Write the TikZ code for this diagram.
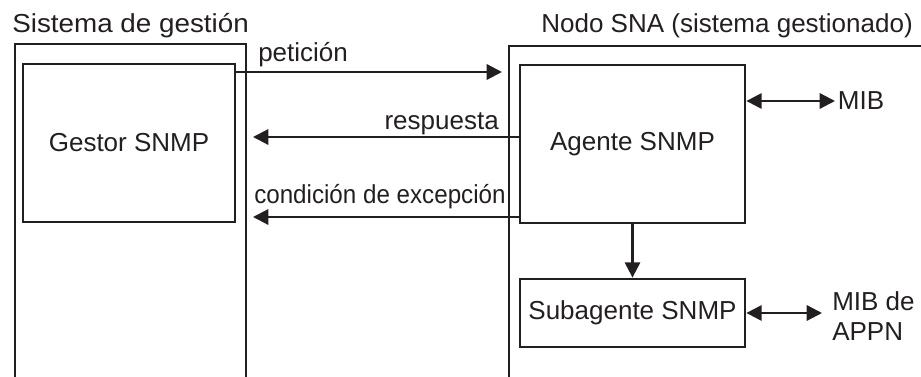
\documentclass[tikz,border=0pt]{standalone}
\usepackage{fontspec}
\setmainfont{Liberation Sans}
\usepackage{xcolor}
\usepackage{tikz}
\usetikzlibrary{arrows.meta}
\definecolor{ink}{HTML}{231F20}
\tikzset{
  snmpFrame/.style={draw=ink, line width=2.2pt},
  snmpBox/.style={draw=ink, line width=2.1pt, inner sep=0pt},
  snmpArrow/.style={draw=ink, line width=1.7pt, -{Triangle[length=11.5pt,width=11.5pt]}},
  snmpBiArrow/.style={draw=ink, line width=1.7pt, {Triangle[length=11.5pt,width=11.5pt]}-{Triangle[length=11.5pt,width=11.5pt]}},
  snmpText/.style={text=ink, font=\fontsize{19.5}{22.5}\selectfont}
}

\begin{document}
\begin{tikzpicture}[x=0.75pt,y=-0.75pt]
  \useasboundingbox (0,0) rectangle (921,377);

  % outer frames, open at the bottom
  \draw[snmpFrame] (15,377) |- (246,44) -- (246,377);
  \draw[snmpFrame] (509,377) |- (921,46);

  \node[snmpText, anchor=base west, inner sep=0pt, xscale=1.07, transform shape] (mgmtTitle) at (12,33) {Sistema de gestión};
  \node[snmpText, anchor=base east, inner sep=0pt] (nodeTitle) at (913,33) {Nodo SNA (sistema gestionado)};

  \node[snmpBox, snmpText, minimum width=159pt, minimum height=118.5pt] (gestor) at (129,143) {Gestor SNMP};
  \node[snmpBox, snmpText, minimum width=168.75pt, minimum height=118.5pt] (agente) at (632.5,144) {Agente SNMP};
  \node[snmpBox, snmpText, minimum width=168.75pt, minimum height=51pt] (subagente) at (632.5,313) {Subagente SNMP};

  \node[snmpText, anchor=west, inner xsep=2pt] (mib) at (835,101) {MIB};
  \node[snmpText, anchor=west, align=left, inner xsep=7.5pt] (mibAppn) at (822,316) {MIB de\\APPN};

  % requests and replies
  \coordinate (petEnd) at (502,72);
  \coordinate (respEnd) at (253,137);
  \coordinate (condEnd) at (253,217);
  \draw[snmpArrow] (gestor.east |- petEnd) -- (petEnd);
  \draw[snmpArrow] (agente.west |- respEnd) -- (respEnd);
  \draw[snmpArrow] (agente.west |- condEnd) -- (condEnd);
  \node[snmpText, anchor=base west, inner sep=0pt] (petLabel) at (258,62) {petición};
  \node[snmpText, anchor=base east, inner sep=0pt] (respLabel) at (499,130) {respuesta};
  \node[snmpText, anchor=base west, inner sep=0pt, xscale=0.93, transform shape] (condLabel) at (254,204) {condición de excepción};

  % inside the node
  \draw[snmpArrow] (agente) -- (subagente);
  \draw[snmpBiArrow] (agente.east |- mib.west) -- (mib.west);
  \draw[snmpBiArrow] (subagente.east) -- (subagente.east -| mibAppn.west);
\end{tikzpicture}
\end{document}
